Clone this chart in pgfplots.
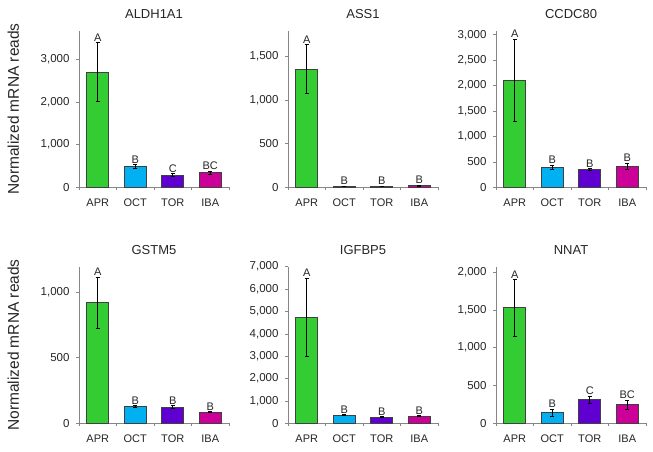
\documentclass[border=0pt]{standalone}
\usepackage{pgfplots}
\pgfplotsset{compat=1.18}
\usepackage{fontspec}
\setmainfont{Liberation Sans}
\definecolor{cAPR}{RGB}{51,204,51}
\definecolor{cOCT}{RGB}{0,176,240}
\definecolor{cTOR}{RGB}{96,0,208}
\definecolor{cIBA}{RGB}{204,0,153}
\definecolor{axgray}{RGB}{134,134,134}
\pgfplotsset{
  panel/.style={
    scale only axis, width=150pt, height=156.6pt,
    xmin=-0.5, xmax=3.5, ymin=0,
    axis lines*=left,
    axis line style={draw=axgray, line width=0.6pt},
    xtick={-0.5,0.5,1.5,2.5,3.5}, xticklabels={,,,,,},
    extra x ticks={0,1,2,3},
    extra x tick labels={APR,OCT,TOR,IBA},
    extra x tick style={major tick length=0pt, tick label style={yshift=-8pt}},
    tick align=outside, major tick length=3pt,
    tick style={draw=axgray, line width=0.6pt},
    xticklabel style={font=\fontsize{11}{13}\selectfont, text=black!85},
    yticklabel style={font=\fontsize{11.5}{13}\selectfont, text=black!85, xshift=-3pt},
    scaled y ticks=false,
    /pgf/number format/1000 sep={,},
    /pgf/number format/assume math mode=true,
    title style={font=\fontsize{13}{15}\selectfont, text=black!85, at={(0.5,1)}, anchor=center, yshift=11pt},
    bar width=22pt,
    clip=false,
  },
  ylab/.style={
    ylabel={Normalized mRNA reads},
    ylabel style={font=\fontsize{15.5}{17}\selectfont, text=black!85, at={(axis description cs:-0.437,0.5)}, anchor=center},
  },
  errb/.style={error bars/.cd, y dir=both, y explicit,
    error bar style={line width=0.6pt, black},
    error mark options={rotate=90, black, line width=0.6pt, mark size=2.2pt}},
  lett/.style={draw=none, mark=none, forget plot, nodes near coords, point meta=explicit symbolic,
    every node near coord/.append style={font=\fontsize{11}{13}\selectfont, text=black!85, anchor=south, inner sep=1pt}},
}
\newcommand{\bars}[8]{%
  \addplot[ybar, bar shift=0pt, fill=cAPR, draw=black!75, line width=0.6pt, errb] coordinates {(0,#1) +- (0,#2)};
  \addplot[ybar, bar shift=0pt, fill=cOCT, draw=black!75, line width=0.6pt, errb] coordinates {(1,#3) +- (0,#4)};
  \addplot[ybar, bar shift=0pt, fill=cTOR, draw=black!75, line width=0.6pt, errb] coordinates {(2,#5) +- (0,#6)};
  \addplot[ybar, bar shift=0pt, fill=cIBA, draw=black!75, line width=0.6pt, errb] coordinates {(3,#7) +- (0,#8)};
}
\begin{document}
\begin{tikzpicture}[x=1pt,y=1pt]
\useasboundingbox (0,0) rectangle (653,452);
% ALDH1A1
\begin{axis}[panel, ylab, at={(79pt,264.7pt)}, anchor=south west, title={ALDH1A1},
  ymax=3670, ytick={0,1000,2000,3000}]
\bars{2700}{690}{490}{40}{290}{30}{345}{40}
\addplot[lett] coordinates {(0,3390)[A] (1,530)[B] (2,320)[C] (3,385)[BC]};
\end{axis}
% ASS1
\begin{axis}[panel, at={(288pt,264.7pt)}, anchor=south west, title={ASS1},
  ymax=1790, ytick={0,500,1000,1500}]
\bars{1350}{280}{12}{3}{10}{3}{20}{5}
\addplot[lett] coordinates {(0,1630)[A] (1,15)[B] (2,13)[B] (3,25)[B]};
\end{axis}
% CCDC80
\begin{axis}[panel, at={(496pt,264.7pt)}, anchor=south west, title={CCDC80},
  ymax=3080, ytick={0,500,1000,1500,2000,2500,3000}]
\bars{2105}{810}{400}{40}{355}{20}{420}{60}
\addplot[lett] coordinates {(0,2915)[A] (1,440)[B] (2,375)[B] (3,480)[B]};
\end{axis}
% GSTM5
\begin{axis}[panel, ylab, at={(79pt,28.7pt)}, anchor=south west, title={GSTM5},
  ymax=1193, ytick={0,500,1000}]
\bars{918}{195}{129}{8}{124}{12}{86}{6}
\addplot[lett] coordinates {(0,1113)[A] (1,137)[B] (2,136)[B] (3,92)[B]};
\end{axis}
% IGFBP5
\begin{axis}[panel, at={(288pt,28.7pt)}, anchor=south west, title={IGFBP5},
  ymax=7000, ytick={0,1000,2000,3000,4000,5000,6000,7000}]
\bars{4740}{1760}{370}{30}{285}{25}{320}{25}
\addplot[lett] coordinates {(0,6500)[A] (1,400)[B] (2,310)[B] (3,345)[B]};
\end{axis}
% NNAT
\begin{axis}[panel, at={(496pt,28.7pt)}, anchor=south west, title={NNAT},
  ymax=2071, ytick={0,500,1000,1500,2000}]
\bars{1530}{375}{143}{45}{315}{45}{250}{60}
\addplot[lett] coordinates {(0,1905)[A] (1,188)[B] (2,360)[C] (3,310)[BC]};
\end{axis}
\end{tikzpicture}
\end{document}
